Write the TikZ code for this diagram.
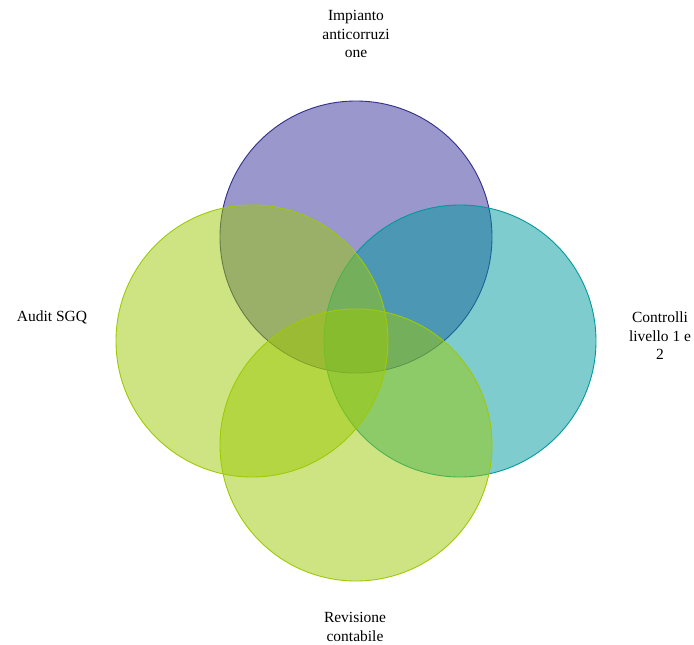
\documentclass[tikz,border=0pt]{standalone}
\usepackage{fontspec}
\setmainfont{Liberation Serif}
\definecolor{cpurple}{RGB}{51,47,151}
\definecolor{cpurpleline}{RGB}{50,46,140}
\definecolor{cteal}{RGB}{0,153,157}
\definecolor{cgreen}{RGB}{157,201,5}
\begin{document}
\begin{tikzpicture}[x=1pt,y=-1pt,
  venn/.style={circle,minimum size=272pt,inner sep=0pt,fill opacity=0.5,line width=0.9pt},
  lbl/.style={align=center,font=\fontsize{15.5}{18.5}\selectfont,text=black,inner sep=0pt}]
\useasboundingbox (0,0) rectangle (694,645);
\node[venn,fill=cpurple,draw=cpurpleline] (top) at (356,237) {};
\node[venn,fill=cteal,draw=cteal] (right) at (460,341) {};
\node[venn,fill=cgreen,draw=cgreen] (bottom) at (356,445) {};
\node[venn,fill=cgreen,draw=cgreen] (left) at (252,341) {};
\node[lbl] (ttop) at (356,34) {Impianto\\anticorruzi\\one};
\node[lbl] (tleft) at (52,317) {Audit SGQ};
\node[lbl] (tright) at (660,336) {Controlli\\livello 1 e\\2};
\node[lbl] (tbottom) at (355,627) {Revisione\\contabile};
\end{tikzpicture}
\end{document}
